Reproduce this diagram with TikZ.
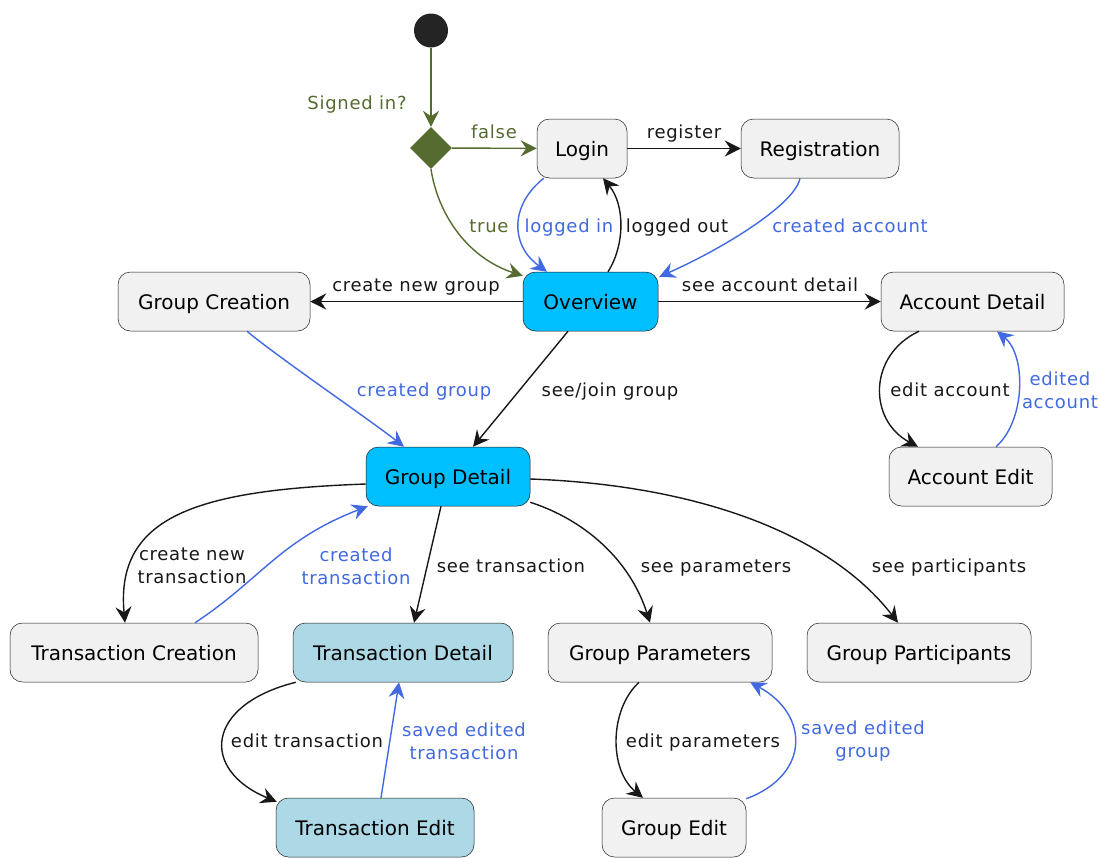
\documentclass[tikz,border=0pt]{standalone}
\usepackage{fontspec}
\setmainfont{DejaVu Sans}
\newfontfamily\lblfont{DejaVu Sans}[LetterSpace=4]
\usetikzlibrary{shapes.geometric,arrows.meta,calc}
\definecolor{olv}{HTML}{556B2F}
\definecolor{rblue}{HTML}{4169E1}
\definecolor{ink}{HTML}{181818}
\definecolor{boxfill}{HTML}{F1F1F1}
\definecolor{skyb}{HTML}{00BFFF}
\definecolor{lblue}{HTML}{ADD8E6}
\begin{document}
\begin{tikzpicture}[x=1pt,y=-1pt,
  state/.style={draw=ink, line width=0.5pt, rounded corners=12.5pt, fill=boxfill, minimum height=59pt, inner sep=0pt, font=\fontsize{20}{24}\selectfont, text=black, text height=15pt, text depth=0pt},
  lbl/.style={font=\lblfont\fontsize{18}{23}\selectfont, align=center, inner sep=0pt, text=ink},
  lbo/.style={lbl, text height=13.7pt, text depth=0pt},
  conn/.style={line width=1.4pt, draw=ink, -{Stealth[length=16pt,width=16pt,inset=5.5pt]}},
  bl/.style={draw=rblue},
  ol/.style={draw=olv}
]
\useasboundingbox (0,0) rectangle (1099,857);
% nodes
\node[circle, fill=ink!95, minimum size=34pt, inner sep=0pt] (start) at (431,30.5) {};
\node[diamond, fill=olv, minimum width=42pt, minimum height=42pt, inner sep=0pt] (dia) at (431,148) {};
\node[state, minimum width=90pt] (login) at (582,148.5) {Login};
\node[state, minimum width=158pt] (registration) at (820,148.5) {Registration};
\node[state, fill=skyb, minimum width=135pt] (overview) at (590.5,301.5) {Overview};
\node[state, minimum width=192pt] (groupcreation) at (214,301.5) {Group Creation};
\node[state, minimum width=183pt] (accountdetail) at (972.5,301.5) {Account Detail};
\node[state, fill=skyb, minimum width=164pt] (groupdetail) at (448,476.5) {Group Detail};
\node[state, minimum width=163pt] (accountedit) at (970.5,476.5) {Account Edit};
\node[state, minimum width=248pt] (trancreation) at (134,652.5) {Transaction Creation};
\node[state, fill=lblue, minimum width=220pt] (trandetail) at (403,652.5) {Transaction Detail};
\node[state, minimum width=224pt] (groupparams) at (660,652.5) {Group Parameters};
\node[state, minimum width=224pt] (groupparts) at (919,652.5) {Group Participants};
\node[state, fill=lblue, minimum width=198pt] (tranedit) at (375,827.5) {Transaction Edit};
\node[state, minimum width=144pt] (groupedit) at (674,827.5) {Group Edit};
% connectors
\draw[conn,ol] (start) -- (dia);
\draw[conn,ol] (dia) -- (login);
\draw[conn,ol] (dia.south) .. controls (438,215) and (468,258) .. ($(overview.north west)+(0,4)$);
\draw[conn,bl] ($(login.south west)+(7,0)$) .. controls (510,205) and (510,245) .. ($(overview.north)+(-43.5,0)$);
\draw[conn] ($(overview.north)+(17.5,0)$) .. controls (625,245) and (625,205) .. ($(login.south)+(21,0)$);
\draw[conn] (login) -- (registration);
\draw[conn,bl] ($(registration.south)+(-20,0)$) .. controls (795,205) and (720,250) .. ($(overview.north east)+(1,5)$);
\draw[conn] (overview) -- (groupcreation);
\draw[conn] (overview) -- (accountdetail);
\draw[conn,bl] ($(groupcreation.south)+(33,0)$) .. controls (275,355) and (370,420) .. ($(groupdetail.north)+(-44,0)$);
\draw[conn] ($(overview.south)+(-22.5,0)$) -- ($(groupdetail.north)+(25,0)$);
\draw[conn] ($(accountdetail.south)+(-53.5,0)$) .. controls (868,355) and (868,420) .. ($(accountedit.north)+(-52.5,0)$);
\draw[conn,bl] ($(accountedit.north)+(25.5,0)$) .. controls (1026,420) and (1026,355) .. ($(accountdetail.south)+(24.5,0)$);
\draw[conn] ($(groupdetail.west)+(0,7.5)$) .. controls (200,490) and (115,515) .. ($(trancreation.north)+(-9,0)$);
\draw[conn,bl] ($(trancreation.north)+(61,0)$) .. controls (260,580) and (280,540) .. ($(groupdetail.south west)+(2,0)$);
\draw[conn] ($(groupdetail.south)+(-7,0)$) -- ($(trandetail.north)+(11,0)$);
\draw[conn] ($(trandetail.south west)+(3,0)$) .. controls (205,705) and (200,770) .. ($(tranedit.north west)+(1,4)$);
\draw[conn,bl] ($(tranedit.north)+(6,0)$) -- ($(trandetail.south)+(-4,0)$);
\draw[conn] ($(groupdetail.south east)+(0,-4)$) .. controls (585,520) and (630,560) .. ($(groupparams.north)+(-10,0)$);
\draw[conn] ($(groupdetail.east)+(0,2.5)$) .. controls (700,485) and (830,535) .. ($(groupparts.north)+(-21,0)$);
\draw[conn] ($(groupparams.south)+(-21,0)$) .. controls (609,710) and (609,770) .. ($(groupedit.north)+(-31,0)$);
\draw[conn,bl] ($(groupedit.north east)+(0,1)$) .. controls (810,775) and (810,715) .. ($(groupparams.south east)+(-22,0)$);
% labels
\node[lbo, text=olv] (l1) at (357,103) {Signed in?};
\node[lbo, text=olv] (l2) at (494,132) {false};
\node[lbo, text=olv] (l3) at (489,226) {true};
\node[lbo, text=rblue] (l4) at (569,226) {logged in};
\node[lbo] (l5) at (677,226) {logged out};
\node[lbo] (l6) at (684,132) {register};
\node[lbo, text=rblue] (l7) at (850,226) {created account};
\node[lbo] (l8) at (416,285) {create new group};
\node[lbo] (l9) at (770,285) {see account detail};
\node[lbo, text=rblue] (l10) at (424,390) {created group};
\node[lbo] (l11) at (610,390) {see/join group};
\node[lbo] (l12) at (950,390) {edit account};
\node[lbl, text=rblue] (l13) at (1060,390) {edited\\account};
\node[lbl] (l14) at (192,566) {create new\\transaction};
\node[lbl, text=rblue] (l15) at (356,566) {created\\transaction};
\node[lbo] (l16) at (511,566) {see transaction};
\node[lbo] (l17) at (716,566) {see parameters};
\node[lbo] (l18) at (949,566) {see participants};
\node[lbo] (l19) at (307,741) {edit transaction};
\node[lbl, text=rblue] (l20) at (464,741) {saved edited\\transaction};
\node[lbo] (l21) at (703,741) {edit parameters};
\node[lbl, text=rblue] (l22) at (863,741) {saved edited\\group};
\end{tikzpicture}
\end{document}
